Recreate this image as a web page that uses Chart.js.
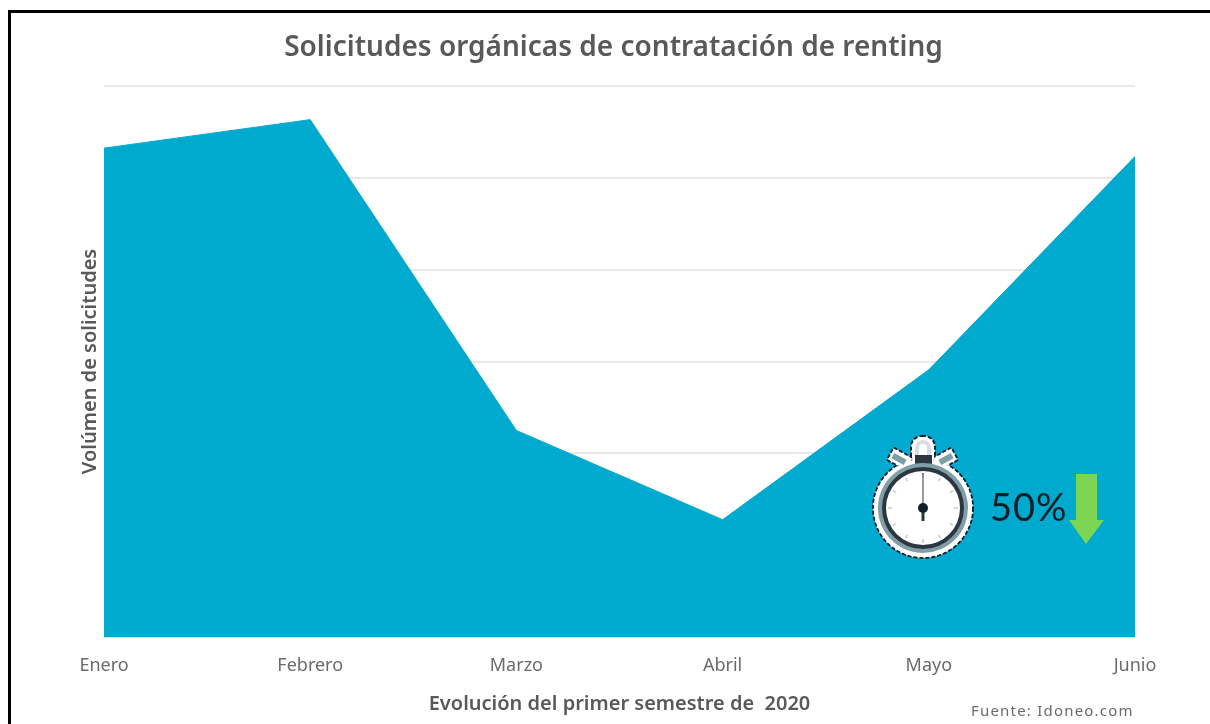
<!DOCTYPE html>
<html>
<head>
<meta charset="utf-8">
<script src="https://cdn.jsdelivr.net/npm/chart.js@4"></script>
<style>
  html, body { margin: 0; padding: 0; background: #fff; overflow: hidden; }
  #marco { position: absolute; left: 8px; top: 10px; width: 1210px; height: 730px; border-left: 3px solid #000; border-top: 3px solid #000; box-sizing: border-box; }
  #grafica { position: absolute; left: 0; top: 0; }
</style>
</head>
<body>
<canvas id="grafica" width="1210" height="724"></canvas>
<div id="marco"></div>
<script>
const meses = ['Enero', 'Febrero', 'Marzo', 'Abril', 'Mayo', 'Junio'];
const solicitudes = [532, 563, 225, 128, 291, 523];
const fuente = 'Noto Sans';

// el titulo va un poco a la derecha del centro del lienzo
const moverTitulo = {
    id: 'moverTitulo',
    afterLayout(chart) {
        chart.titleBlock.left += 7;
        chart.titleBlock.right += 7;
    }
};

// cronometro y flecha del 50%, son decoracion encima del area
const cronometro = {
    id: 'cronometro',
    afterDraw(chart) {
        const c = chart.ctx;
        const cx = 923, cy = 508;
        c.save();

        // silueta: primero el contorno punteado y luego el relleno blanco encima
        c.fillStyle = '#fff';
        c.strokeStyle = '#10202a';
        c.lineWidth = 2;
        c.setLineDash([4, 2]);
        c.beginPath(); c.arc(cx, cy, 50, 0, Math.PI * 2); c.fill(); c.stroke();
        c.beginPath(); c.roundRect(cx - 12, 436, 24, 32, 11); c.fill(); c.stroke();
        c.save(); c.translate(cx - 23, 459); c.rotate(0.5); c.beginPath(); c.rect(-11, -7, 22, 14); c.fill(); c.stroke(); c.restore();
        c.save(); c.translate(cx + 22, 459); c.rotate(-0.5); c.beginPath(); c.rect(-11, -7, 22, 14); c.fill(); c.stroke(); c.restore();
        c.setLineDash([]);
        c.beginPath(); c.arc(cx, cy, 49, 0, Math.PI * 2); c.fill();
        c.beginPath(); c.roundRect(cx - 11, 437, 22, 30, 10); c.fill();
        c.save(); c.translate(cx - 23, 459); c.rotate(0.5); c.fillRect(-10, -6, 20, 12); c.restore();
        c.save(); c.translate(cx + 22, 459); c.rotate(-0.5); c.fillRect(-10, -6, 20, 12); c.restore();

        // asa y botones
        c.strokeStyle = '#d9dfe0';
        c.lineWidth = 4;
        c.beginPath(); c.moveTo(cx - 6, 456); c.lineTo(cx - 6, 448); c.arc(cx, 448, 6, Math.PI, 0); c.lineTo(cx + 6, 456); c.stroke();
        c.fillStyle = '#7f9ea5';
        c.save(); c.translate(cx - 24, 459); c.rotate(0.5); c.fillRect(-7, -3, 14, 6); c.restore();
        c.save(); c.translate(cx + 23, 459); c.rotate(-0.5); c.fillRect(-7, -3, 14, 6); c.restore();
        c.fillStyle = '#2b3640';
        c.fillRect(cx - 8, 455, 17, 9);

        // caja
        c.fillStyle = '#7f9ea5';
        c.beginPath(); c.arc(cx, cy, 45, 0, Math.PI * 2); c.fill();
        c.fillStyle = '#2b3640';
        c.beginPath(); c.arc(cx, cy, 41, 0, Math.PI * 2); c.fill();
        c.fillStyle = '#fff';
        c.beginPath(); c.arc(cx, cy, 37, 0, Math.PI * 2); c.fill();

        // marcas
        c.strokeStyle = '#a8b0b4';
        c.lineWidth = 1;
        for (let i = 0; i < 12; i++) {
            const a = i * Math.PI / 6;
            c.beginPath();
            c.moveTo(cx + Math.cos(a) * 31, cy + Math.sin(a) * 31);
            c.lineTo(cx + Math.cos(a) * 35, cy + Math.sin(a) * 35);
            c.stroke();
        }

        // aguja
        c.strokeStyle = '#2b3640';
        c.lineWidth = 1;
        c.beginPath(); c.moveTo(cx, cy - 35); c.lineTo(cx, cy); c.stroke();
        c.lineWidth = 3;
        c.beginPath(); c.moveTo(cx, cy); c.lineTo(cx, cy + 13); c.stroke();
        c.fillStyle = '#10202a';
        c.beginPath(); c.arc(cx, cy, 5, 0, Math.PI * 2); c.fill();

        // texto
        c.fillStyle = '#0b1e28';
        c.font = '400 38px Lato';
        c.letterSpacing = '1px';
        c.textAlign = 'left';
        c.textBaseline = 'middle';
        c.fillText('50%', 990, 509);

        // flecha verde
        c.fillStyle = '#7dd651';
        c.beginPath();
        c.moveTo(1076, 474); c.lineTo(1097, 474); c.lineTo(1097, 520); c.lineTo(1104, 520);
        c.lineTo(1086, 544); c.lineTo(1069, 520); c.lineTo(1076, 520);
        c.closePath();
        c.fill();

        // fuente
        c.fillStyle = '#6b6b6b';
        c.font = '15px ' + fuente;
        c.letterSpacing = '1.2px';
        c.fillText('Fuente: Idoneo.com', 971, 712);
        c.restore();
    }
};

new Chart(document.getElementById('grafica').getContext('2d'), {
    type: 'line',
    data: {
        labels: meses,
        datasets: [{
            label: 'Solicitudes',
            data: solicitudes,
            backgroundColor: '#00A9CE',
            borderColor: '#00A9CE',
            borderWidth: 1,
            fill: 'origin',
            pointRadius: 0,
            tension: 0
        }]
    },
    plugins: [moverTitulo, cronometro],
    options: {
        responsive: false,
        animation: false,
        layout: { padding: { left: 78, right: 75, top: 31, bottom: 8 } },
        plugins: {
            legend: { display: false },
            tooltip: { enabled: false },
            title: {
                display: true,
                text: 'Solicitudes orgánicas de contratación de renting',
                color: '#595959',
                font: { family: fuente, size: 28, weight: '600' },
                padding: { top: 0, bottom: 21 }
            }
        },
        scales: {
            x: {
                offset: false,
                grid: { display: false },
                border: { display: false },
                ticks: { color: '#6b6b6b', font: { family: fuente, size: 18 }, maxRotation: 0, autoSkip: false, padding: 10 },
                title: {
                    display: true,
                    text: 'Evolución del primer semestre de  2020',
                    color: '#595959',
                    font: { family: fuente, size: 20, weight: '600' },
                    padding: { top: 5, bottom: 0 }
                }
            },
            y: {
                min: 0,
                max: 600,
                afterFit(scale) { scale.width = 26; },
                grid: { color: '#e8e8e8', lineWidth: 2, drawTicks: false },
                border: { display: false },
                ticks: { display: false, stepSize: 100 },
                title: {
                    display: true,
                    text: 'Volúmen de solicitudes',
                    color: '#595959',
                    font: { family: fuente, size: 20, weight: '600' },
                    padding: 0
                }
            }
        }
    }
});
</script>
</body>
</html>
